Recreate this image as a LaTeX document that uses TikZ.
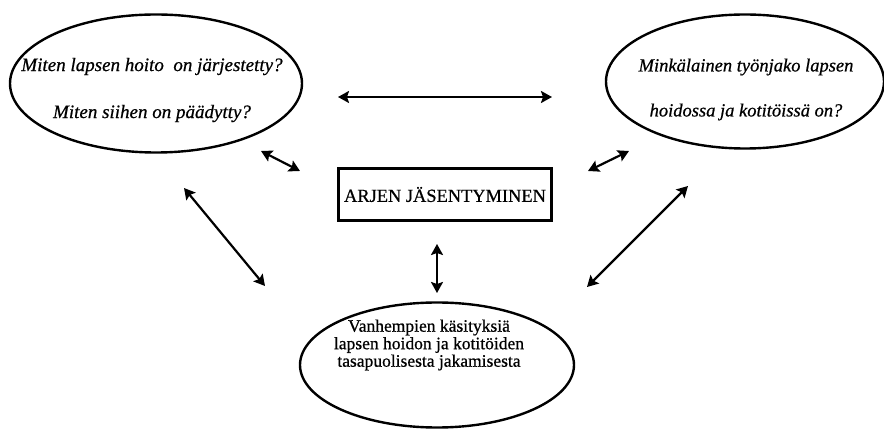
\documentclass[tikz,border=0pt]{standalone}
\usepackage{fontspec}
\setmainfont{Liberation Serif}[FakeBold=0.7]
\usetikzlibrary{arrows.meta,shapes.geometric}
\begin{document}
\begin{tikzpicture}[x=1pt,y=-1pt,
  oval/.style={draw,line width=2.4pt,ellipse,inner sep=0pt},
  lbl/.style={align=center,inner sep=0pt},
  dbl/.style={line width=2.2pt,{Stealth[length=11pt,width=12pt,inset=2pt]}-{Stealth[length=11pt,width=12pt,inset=2pt]}}]
\useasboundingbox (0,0) rectangle (884,430);
% ellipses
\node[oval,minimum width=292pt,minimum height=138pt] (tl) at (156,83.5) {};
\node[oval,minimum width=278pt,minimum height=134pt] (tr) at (745,81.5) {};
\node[oval,minimum width=274pt,minimum height=125pt] (bo) at (437,365) {};
% texts
\node[lbl,font=\fontsize{19}{47}\selectfont\itshape] (tltext) at (152,90)
  {Miten lapsen hoito\ \ on järjestetty?\\Miten siihen on päädytty?};
\node[lbl,font=\fontsize{18.5}{45}\selectfont\itshape] (trtext) at (746,89.5)
  {Minkälainen työnjako lapsen\\hoidossa ja kotitöissä on?};
\node[lbl,font=\fontsize{17.5}{17.5}\selectfont] (botext) at (429,345)
  {Vanhempien käsityksiä\\lapsen hoidon ja kotitöiden\\tasapuolisesta jakamisesta};
% centre box
\node[draw,line width=3.8pt,minimum width=213pt,minimum height=52pt,inner sep=0pt,
  font=\fontsize{18.4}{18.4}\selectfont] (box) at (445,194.5) {ARJEN JÄSENTYMINEN};
% arrow end points
\coordinate (h1) at (338,97);
\coordinate (h2) at (552,97);
\coordinate (a1) at (261,151);
\coordinate (a2) at (300,171);
\coordinate (b1) at (588,171);
\coordinate (b2) at (629,151);
\coordinate (c1) at (184,188);
\coordinate (c2) at (265,286);
\coordinate (d1) at (587,287);
\coordinate (d2) at (688,186);
\coordinate (v1) at (437,244);
\coordinate (v2) at (437,293);
\draw[dbl] (h1) -- (h2);
\draw[dbl] (a1) -- (a2);
\draw[dbl] (b1) -- (b2);
\draw[dbl] (c1) -- (c2);
\draw[dbl] (d1) -- (d2);
\draw[dbl] (v1) -- (v2);
\end{tikzpicture}
\end{document}
